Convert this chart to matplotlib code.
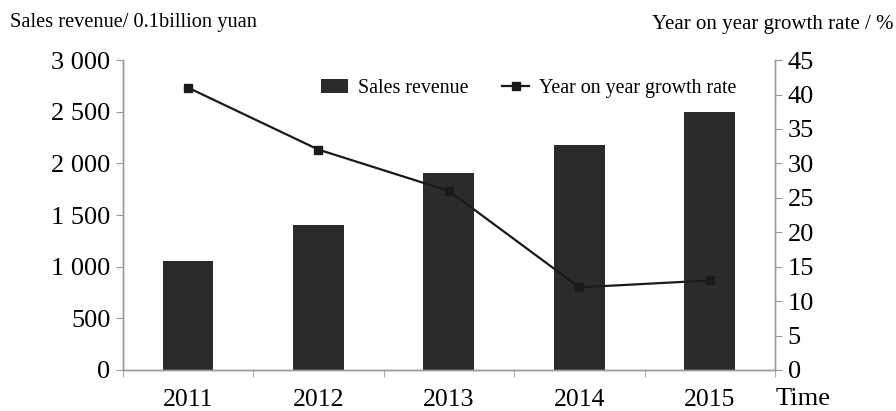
import matplotlib
matplotlib.use("Agg")
import matplotlib.pyplot as plt
from matplotlib.ticker import FixedLocator, FuncFormatter

years = ["2011", "2012", "2013", "2014", "2015"]
revenue = [1055, 1400, 1905, 2175, 2495]
growth = [41.0, 32.0, 26.0, 12.0, 13.0]

plt.rcParams['font.family'] = ['Liberation Serif', 'DejaVu Serif']

fig = plt.figure(figsize=(8.96, 4.11), dpi=100)
ax = fig.add_axes([0.137, 0.0998, 0.728, 0.754])
ax2 = ax.twinx()

x = list(range(len(years)))
bars = ax.bar(x, revenue, width=0.39, color='#2b2b2b', label='Sales revenue', zorder=2)
line, = ax2.plot(x, growth, color='#1a1a1a', lw=1.6, marker='s', ms=6, label='Year on year growth rate', zorder=3)

ax.set_xlim(-0.5, 4.5)
ax.set_ylim(0, 3000)
ax2.set_ylim(0, 45)
ax.set_yticks(range(0, 3001, 500))
ax.yaxis.set_major_formatter(FuncFormatter(lambda v, p: f"{int(v):,}".replace(",", " ")))
ax2.set_yticks(range(0, 46, 5))

ax.set_xticks(x)
ax.set_xticklabels(years)
ax.xaxis.set_minor_locator(FixedLocator([-0.5, 0.5, 1.5, 2.5, 3.5, 4.5]))
ax.tick_params(axis='x', which='major', length=0, labelsize=18.5, pad=14)
ax.tick_params(axis='x', which='minor', length=5, color='#999999')
ax.tick_params(axis='y', length=5, color='#999999', labelsize=19, pad=4)
ax2.tick_params(axis='y', length=5, color='#999999', labelsize=19, pad=4)

for a in (ax, ax2):
    a.spines['top'].set_visible(False)
    for s in ('left', 'right', 'bottom'):
        a.spines[s].set_color('#999999')
        a.spines[s].set_linewidth(1.0)

ax.set_zorder(ax2.get_zorder() - 1)
ax2.patch.set_visible(False)

fig.legend(handles=[bars, line], labels=['Sales revenue', 'Year on year growth rate'],
           loc='center', bbox_to_anchor=(0.59, 0.785), ncol=2, frameon=False,
           fontsize=14.4, handlelength=1.35, handletextpad=0.5, columnspacing=1.7)

fig.text(0.011, 0.945, "Sales revenue/ 0.1billion yuan", fontsize=14.7, ha='left', va='center')
fig.text(0.997, 0.94, "Year on year growth rate / %", fontsize=15, ha='right', va='center')
fig.text(0.896, 0.03, "Time", fontsize=19, ha='center', va='center')

fig.savefig("out.png", dpi=100)
